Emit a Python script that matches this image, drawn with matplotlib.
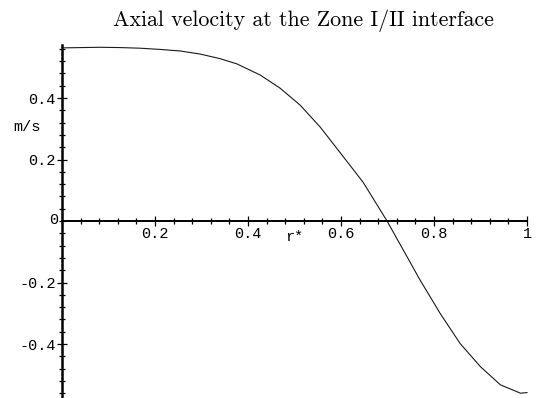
import matplotlib
matplotlib.use("Agg")
import matplotlib.pyplot as plt
from matplotlib.ticker import MultipleLocator, FixedLocator

# radial position r* and axial velocity (m/s) at the Zone I/II interface
r_star = [0.0, 0.041, 0.082, 0.125, 0.168, 0.211, 0.254, 0.297, 0.340,
          0.376, 0.426, 0.469, 0.512, 0.555, 0.605, 0.648, 0.699, 0.742,
          0.770, 0.788, 0.813, 0.856, 0.900, 0.943, 0.986, 1.0]
velocity = [0.563, 0.564, 0.565, 0.564, 0.562, 0.558, 0.553, 0.543, 0.528,
            0.511, 0.475, 0.432, 0.377, 0.306, 0.209, 0.125, 0.0, -0.116,
            -0.192, -0.237, -0.300, -0.398, -0.474, -0.533, -0.560, -0.558]

x_ticks = [0.2, 0.4, 0.6, 0.8, 1.0]
x_tick_labels = ["0.2", "0.4", "0.6", "0.8", "1"]
y_ticks = [-0.4, -0.2, 0.2, 0.4]
y_tick_labels = ["-0.4", "-0.2", "0.2", "0.4"]

title = "Axial velocity at the Zone I/II interface"

mono = "Liberation Mono"

fig = plt.figure(figsize=(5.37, 3.98), dpi=100)
ax = fig.add_axes([62 / 537, 0.0, 465 / 537, 353 / 398])
ax.set_xlim(0, 1.0)
ax.set_ylim(-0.5756, 0.5724)

ax.plot(r_star, velocity, color="#1a1a1a", lw=0.8, clip_on=False)

# axes crossing at the origin
for side in ("top", "right"):
    ax.spines[side].set_visible(False)
ax.spines["left"].set_position(("data", 0))
ax.spines["bottom"].set_position(("data", 0))
ax.spines["left"].set_linewidth(1.8)
ax.spines["bottom"].set_linewidth(1.4)
ax.patch.set_visible(False)

ax.xaxis.set_major_locator(FixedLocator(x_ticks))
ax.set_xticklabels(x_tick_labels, fontfamily=mono, fontsize=11)
ax.yaxis.set_major_locator(FixedLocator(y_ticks))
ax.set_yticklabels(y_tick_labels, fontfamily=mono, fontsize=11)
ax.xaxis.set_minor_locator(MultipleLocator(0.04))
ax.yaxis.set_minor_locator(MultipleLocator(0.04))
ax.tick_params(which="major", direction="inout", length=7, width=0.9, pad=1)
ax.tick_params(which="minor", direction="inout", length=4, width=0.9)

ax.text(-0.008, 0.003, "0", ha="right", va="center", fontfamily=mono, fontsize=11)
ax.text(0.5, -0.03, "r*", ha="center", va="top", fontfamily=mono, fontsize=11)
ax.text(-0.045, 0.305, "m/s", ha="right", va="center", fontfamily=mono, fontsize=11)

fig.text(303 / 537, 0.948, title, ha="center", va="center", fontfamily="cmr10", fontsize=15.8)

fig.savefig("out.png", dpi=100)
